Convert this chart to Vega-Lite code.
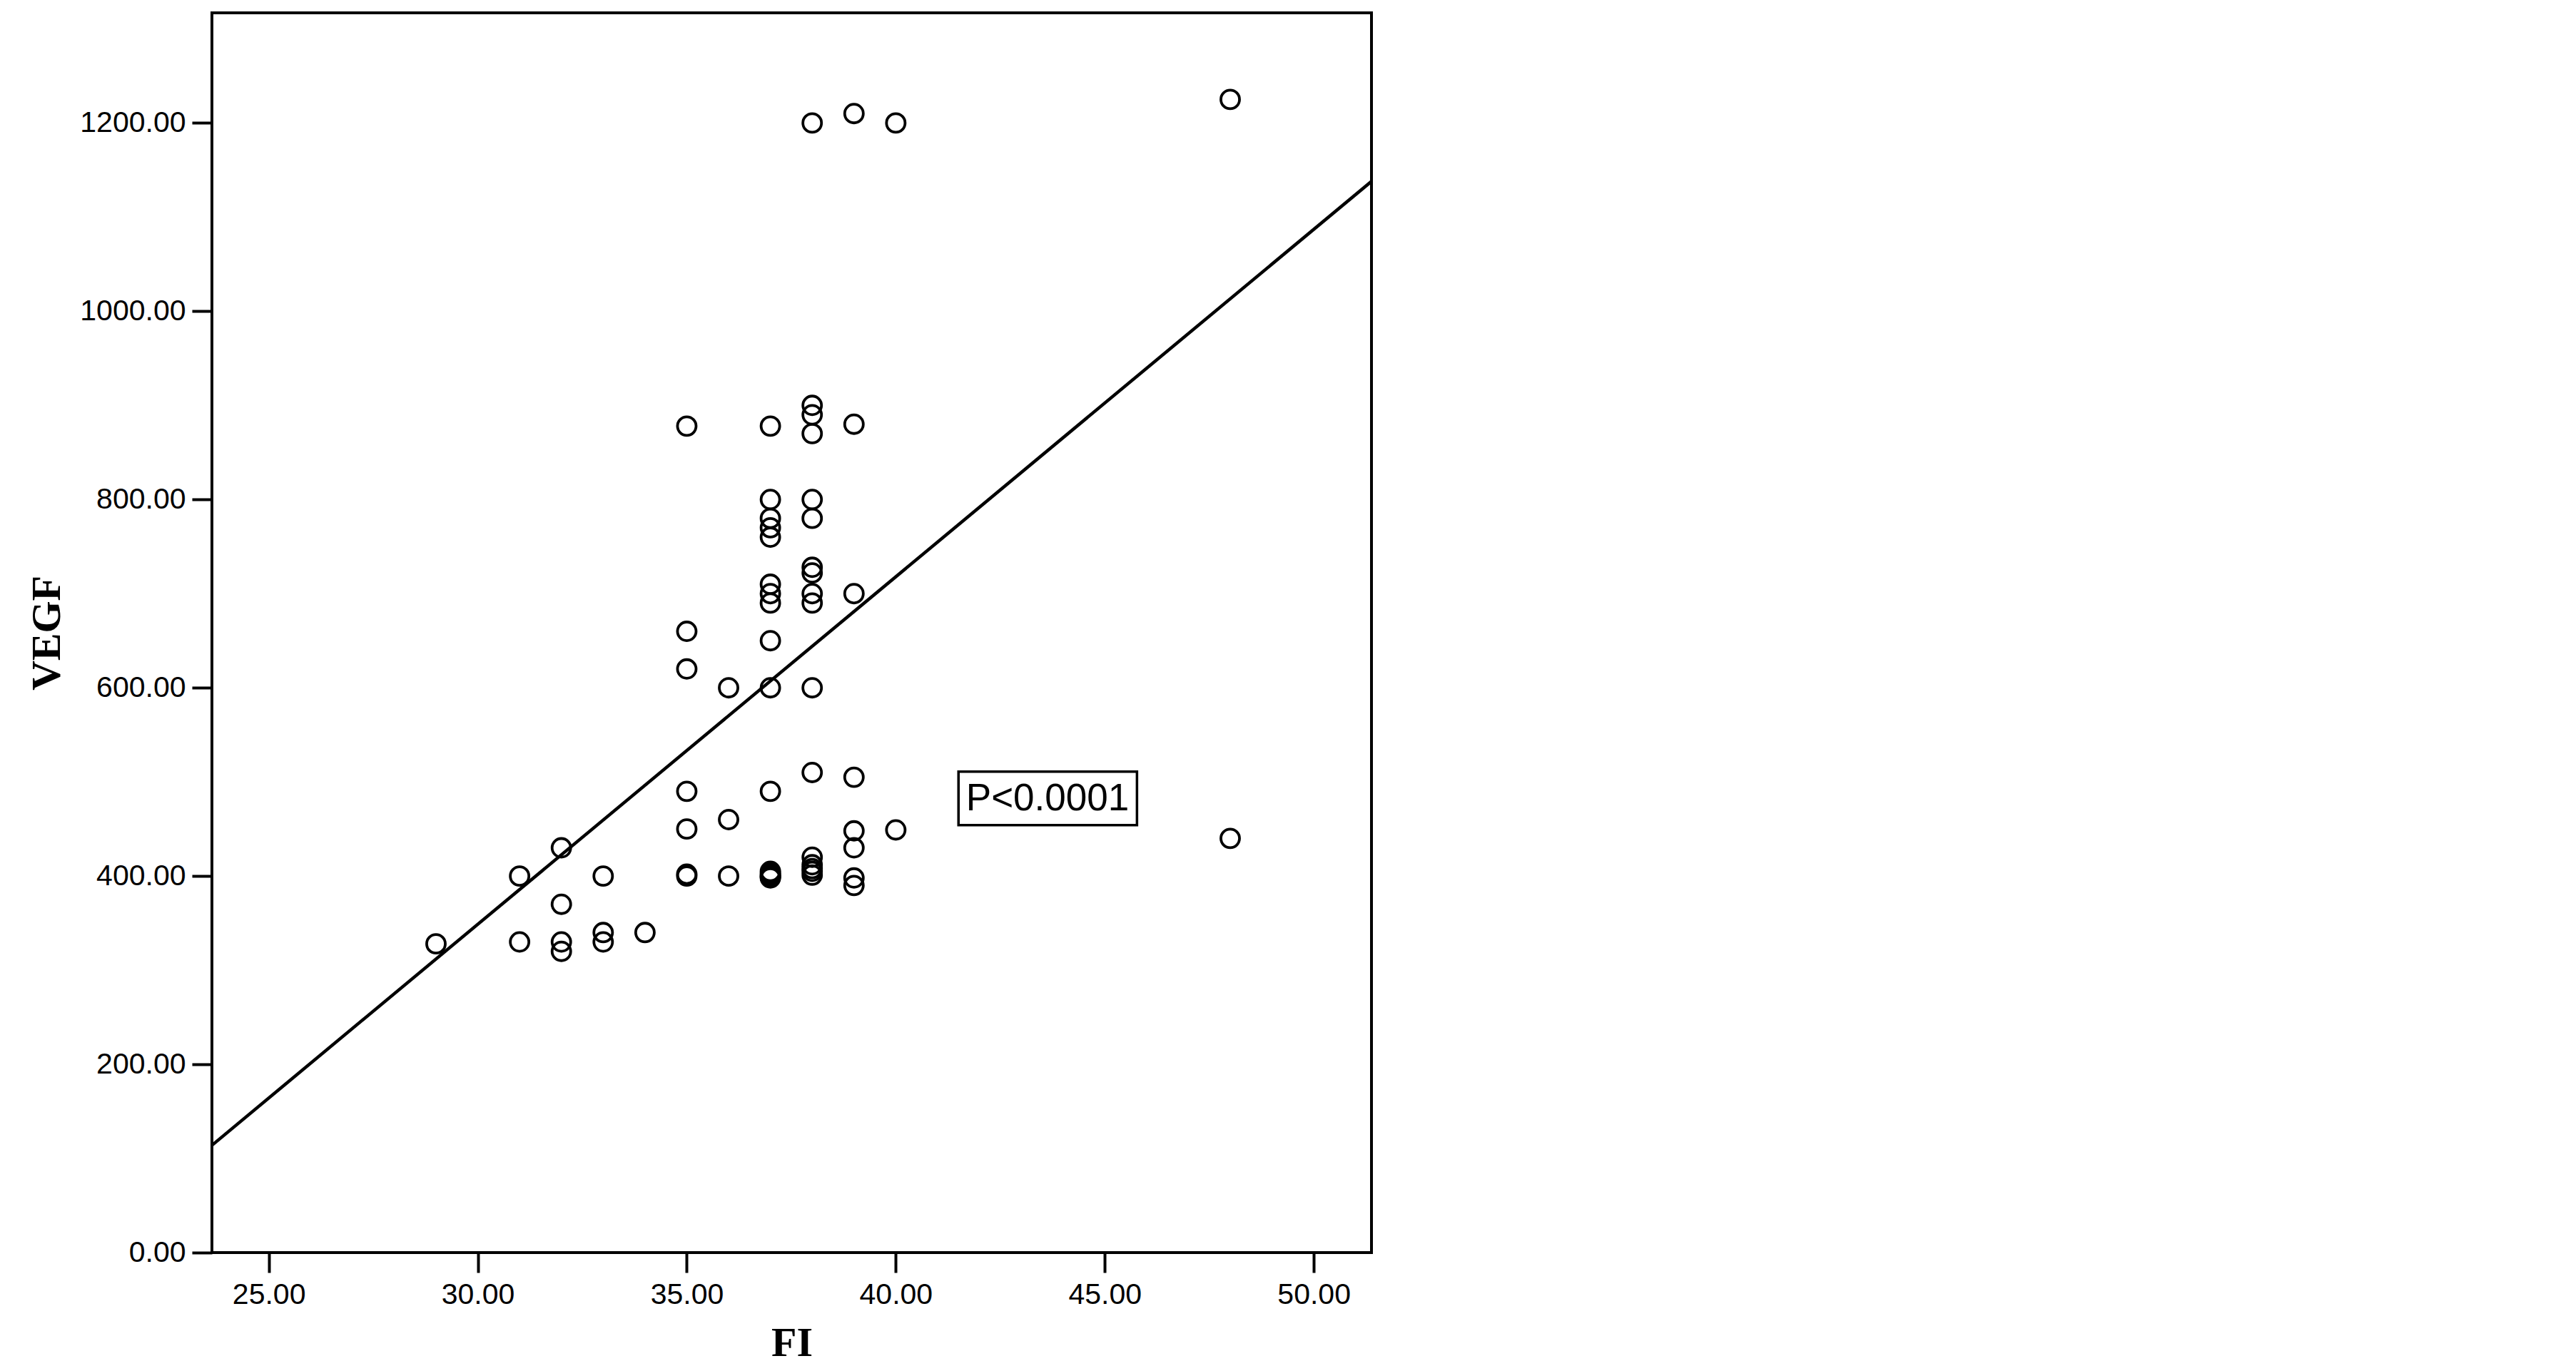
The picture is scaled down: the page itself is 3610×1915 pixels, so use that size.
{
  "$schema": "https://vega.github.io/schema/vega-lite/v6.json",
  "width": 1625,
  "height": 1738,
  "autosize": {"type": "none"},
  "padding": {"left": 297, "top": 18, "right": 1688, "bottom": 159},
  "background": "white",
  "datasets": {
    "pts": [
      {"FI": 29, "VEGF": 328},
      {"FI": 31, "VEGF": 400}, {"FI": 31, "VEGF": 330},
      {"FI": 32, "VEGF": 430}, {"FI": 32, "VEGF": 370}, {"FI": 32, "VEGF": 330}, {"FI": 32, "VEGF": 320},
      {"FI": 33, "VEGF": 400}, {"FI": 33, "VEGF": 340}, {"FI": 33, "VEGF": 330},
      {"FI": 34, "VEGF": 340},
      {"FI": 35, "VEGF": 878}, {"FI": 35, "VEGF": 660}, {"FI": 35, "VEGF": 620}, {"FI": 35, "VEGF": 490}, {"FI": 35, "VEGF": 450}, {"FI": 35, "VEGF": 400}, {"FI": 35, "VEGF": 402},
      {"FI": 36, "VEGF": 600}, {"FI": 36, "VEGF": 460}, {"FI": 36, "VEGF": 400},
      {"FI": 37, "VEGF": 878}, {"FI": 37, "VEGF": 800}, {"FI": 37, "VEGF": 780}, {"FI": 37, "VEGF": 770}, {"FI": 37, "VEGF": 760}, {"FI": 37, "VEGF": 710}, {"FI": 37, "VEGF": 700}, {"FI": 37, "VEGF": 690}, {"FI": 37, "VEGF": 650}, {"FI": 37, "VEGF": 600}, {"FI": 37, "VEGF": 490}, {"FI": 37, "VEGF": 405}, {"FI": 37, "VEGF": 403}, {"FI": 37, "VEGF": 401}, {"FI": 37, "VEGF": 400}, {"FI": 37, "VEGF": 399}, {"FI": 37, "VEGF": 398},
      {"FI": 38, "VEGF": 1200}, {"FI": 38, "VEGF": 900}, {"FI": 38, "VEGF": 890}, {"FI": 38, "VEGF": 870}, {"FI": 38, "VEGF": 800}, {"FI": 38, "VEGF": 780}, {"FI": 38, "VEGF": 728}, {"FI": 38, "VEGF": 722}, {"FI": 38, "VEGF": 700}, {"FI": 38, "VEGF": 690}, {"FI": 38, "VEGF": 600}, {"FI": 38, "VEGF": 510}, {"FI": 38, "VEGF": 420}, {"FI": 38, "VEGF": 412}, {"FI": 38, "VEGF": 408}, {"FI": 38, "VEGF": 405}, {"FI": 38, "VEGF": 401},
      {"FI": 39, "VEGF": 1210}, {"FI": 39, "VEGF": 880}, {"FI": 39, "VEGF": 700}, {"FI": 39, "VEGF": 505}, {"FI": 39, "VEGF": 448}, {"FI": 39, "VEGF": 430}, {"FI": 39, "VEGF": 398}, {"FI": 39, "VEGF": 390},
      {"FI": 40, "VEGF": 1200}, {"FI": 40, "VEGF": 449},
      {"FI": 48, "VEGF": 1225}, {"FI": 48, "VEGF": 440}
    ],
    "fit": [
      {"FI": 23.64, "VEGF": 114},
      {"FI": 51.38, "VEGF": 1138}
    ],
    "box": [
      {"FI": 41.5, "FI2": 45.77, "VEGF": 454, "VEGF2": 511}
    ],
    "note": [
      {"FI": 43.63, "VEGF": 470, "label": "P<0.0001"}
    ]
  },
  "layer": [
    {
      "data": {"name": "fit"},
      "mark": {"type": "line", "color": "black", "strokeWidth": 4.5, "clip": true},
      "encoding": {
        "x": {"field": "FI", "type": "quantitative", "title": "FI"},
        "y": {"field": "VEGF", "type": "quantitative", "title": "VEGF"}
      }
    },
    {
      "data": {"name": "pts"},
      "mark": {"type": "point", "shape": "circle", "filled": false, "stroke": "black", "strokeWidth": 3.8, "size": 680, "opacity": 1},
      "encoding": {
        "x": {
          "field": "FI", "type": "quantitative", "title": "FI",
          "scale": {"domain": [23.64, 51.38], "nice": false, "zero": false},
          "axis": {"values": [25, 30, 35, 40, 45, 50], "format": ".2f", "labelPadding": 11, "titlePadding": 19}
        },
        "y": {
          "field": "VEGF", "type": "quantitative", "title": "VEGF",
          "scale": {"domain": [0, 1317], "nice": false, "zero": false},
          "axis": {"values": [0, 200, 400, 600, 800, 1000, 1200], "format": ".2f", "labelPadding": 9, "titlePadding": 16}
        }
      }
    },
    {
      "data": {"name": "box"},
      "mark": {"type": "rect", "fill": "white", "stroke": "black", "strokeWidth": 3.5},
      "encoding": {
        "x": {"field": "FI", "type": "quantitative", "title": "FI"},
        "x2": {"field": "FI2"},
        "y": {"field": "VEGF", "type": "quantitative", "title": "VEGF"},
        "y2": {"field": "VEGF2"}
      }
    },
    {
      "data": {"name": "note"},
      "mark": {"type": "text", "font": "Liberation Sans", "fontSize": 53, "align": "center", "baseline": "alphabetic", "color": "black"},
      "encoding": {
        "x": {"field": "FI", "type": "quantitative", "title": "FI"},
        "y": {"field": "VEGF", "type": "quantitative", "title": "VEGF"},
        "text": {"field": "label"}
      }
    }
  ],
  "config": {
    "view": {"stroke": "black", "strokeWidth": 4},
    "axis": {
      "grid": false,
      "domain": false,
      "ticks": true,
      "tickSize": 28,
      "tickWidth": 4,
      "tickColor": "black",
      "labelFont": "Liberation Sans",
      "labelFontSize": 41,
      "labelColor": "black",
      "labelFlush": false,
      "labelOverlap": false,
      "labelBound": false,
      "titleFont": "Liberation Serif",
      "titleFontWeight": "bold",
      "titleFontSize": 58,
      "titleColor": "black"
    }
  }
}
